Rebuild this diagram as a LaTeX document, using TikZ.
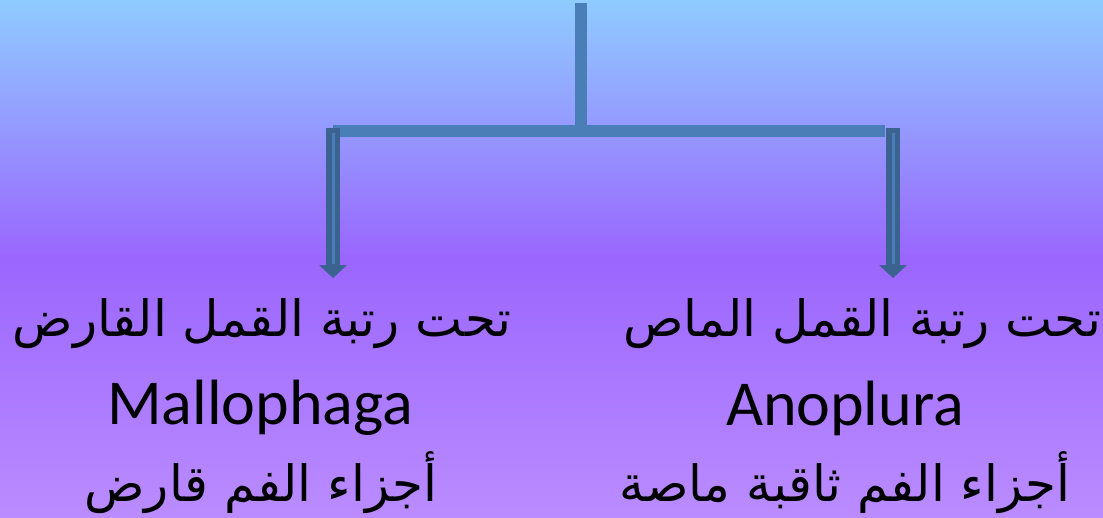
\documentclass[tikz,border=0pt]{standalone}
\usepackage{fontspec}
\setmainfont{Carlito}
\newfontfamily\arabicfont[Script=Arabic]{DejaVu Sans}
\TeXXeTstate=1
\usetikzlibrary{arrows.meta}
\definecolor{skytop}{HTML}{8FCBFF}
\definecolor{skymid}{HTML}{9A66FE}
\definecolor{skybot}{HTML}{BA8CFF}
\definecolor{barblue}{HTML}{4A7EB6}
\definecolor{shaftdark}{HTML}{3B6290}
\begin{document}
\begin{tikzpicture}[x=1pt,y=-1pt,
    bar/.style={barblue,line width=12pt},
    shaftout/.style={shaftdark,line width=14pt,-{Triangle[width=28pt,length=13pt,line width=0pt]}},
    shaftin/.style={barblue,line width=3pt},
    artext/.style={font=\arabicfont\fontsize{50}{50}\selectfont,inner sep=0pt},
    latext/.style={font=\fontsize{64}{64}\selectfont,inner sep=0pt}]
    \useasboundingbox (0,0) rectangle (1103,517);
    \shade[top color=skytop,bottom color=skybot,middle color=skymid] (0,0) rectangle (1103,517);
    % connectors
    \coordinate (top) at (581,3);
    \coordinate (stem) at (581,125);
    \coordinate (lbar) at (333,131);
    \coordinate (rbar) at (885,131);
    \coordinate (lstart) at (333,128);
    \coordinate (rstart) at (893,128);
    \coordinate (ltip) at (333,278);
    \coordinate (rtip) at (893,278);
    \draw[bar] (top) -- (stem);
    \draw[bar] (lbar) -- (rbar);
    \draw[shaftout] (lstart) -- (ltip);
    \draw[shaftout] (rstart) -- (rtip);
    \draw[shaftin] ([yshift=-5]lstart) -- ([yshift=14]ltip);
    \draw[shaftin] ([yshift=-5]rstart) -- ([yshift=14]rtip);
    % left
    \node[artext] (lrank) at (262,324) {\beginR تحت رتبة القمل القارض\endR};
    \node[latext] (lname) at (260,408) {Mallophaga};
    \node[artext] (lmouth) at (261,483) {\beginR أجزاء الفم قارض\endR};
    % right
    \node[artext] (rrank) at (862,324) {\beginR تحت رتبة القمل الماص\endR};
    \node[latext] (rname) at (845,408) {Anoplura};
    \node[artext] (rmouth) at (845,483) {\beginR أجزاء الفم ثاقبة ماصة\endR};
\end{tikzpicture}
\end{document}
